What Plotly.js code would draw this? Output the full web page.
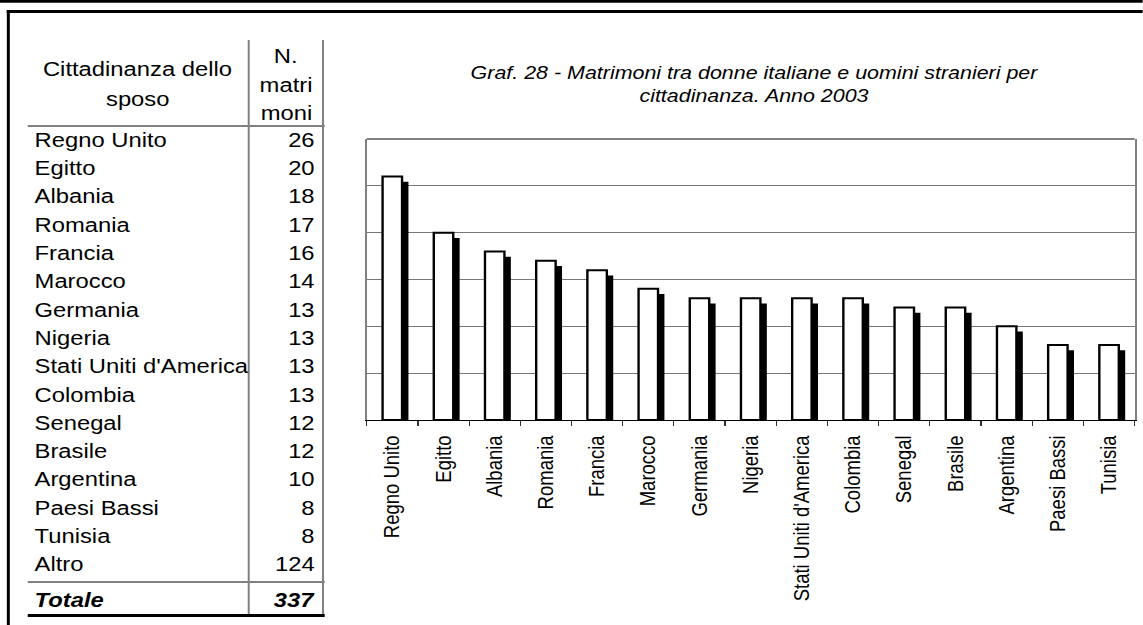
<!DOCTYPE html>
<html>
<head>
<meta charset="utf-8">
<script src="https://cdn.plot.ly/plotly-3.0.1.min.js"></script>
<style>
  html, body { margin: 0; padding: 0; background: #ffffff; overflow: hidden; }
  #wrap { width: 960px; height: 625px; transform: scaleX(1.190625); transform-origin: 0 0; }
  #chart { width: 960px; height: 625px; }
</style>
</head>
<body>
<div id="wrap"><div id="chart"></div></div>
<script>
// ---- data ----
const paesi = ["Regno Unito", "Egitto", "Albania", "Romania", "Francia", "Marocco", "Germania",
  "Nigeria", "Stati Uniti d'America", "Colombia", "Senegal", "Brasile", "Argentina", "Paesi Bassi", "Tunisia"];
const matrimoni = [26, 20, 18, 17, 16, 14, 13, 13, 13, 13, 12, 12, 10, 8, 8];
const altroLabel = "Altro";
const altroValore = 124;
const totaleLabel = "Totale";
const totaleValore = 337;
const headerCittadinanza = ["Cittadinanza dello", "sposo"];
const headerNumero = ["N.", "matri", "moni"];
const titolo = ["Graf. 28 - Matrimoni tra donne italiane e uomini stranieri per", "cittadinanza. Anno 2003"];

// ---- geometry helpers (page pixels of the 1143x625 picture) ----
const K = 1143 / 960;
const W = 960, H = 625;
const plotL = 367 / K, plotR = 1135 / K, plotTop = 139, plotBot = 420;
const px = X => (X / K - plotL) / (plotR - plotL);
const py = Y => (plotBot - Y) / (plotBot - plotTop);

const FONT = "Liberation Sans, Arial, Helvetica, sans-serif";
const GRAY = "#808080";
const barW = 0.38;
const shadowShift = 0.125;
const shadowDrop = 0.56;

const traces = [
  {
    type: "bar", x: paesi, y: matrimoni.map(v => v - shadowDrop),
    width: barW, offset: -barW / 2 + shadowShift,
    marker: { color: "#000000", line: { width: 0 } },
    hoverinfo: "skip", showlegend: false
  },
  {
    type: "bar", x: paesi, y: matrimoni,
    width: barW, offset: -barW / 2,
    marker: { color: "#ffffff", line: { color: "#000000", width: 2 } },
    showlegend: false
  }
];

// ---- table (text as annotations) ----
const ann = [];
const rowY0 = 139.8, rowStep = 28.3;
const tabFont = { family: FONT, size: 20, color: "#000000" };
const names = paesi.concat([altroLabel]);
const vals = matrimoni.concat([altroValore]);
names.forEach((n, i) => {
  const Y = rowY0 + i * rowStep;
  ann.push({ xref: "paper", yref: "paper", x: px(33), y: py(Y), xanchor: "left", yanchor: "middle",
    text: n, showarrow: false, font: tabFont });
  ann.push({ xref: "paper", yref: "paper", x: px(317), y: py(Y), xanchor: "right", yanchor: "middle",
    text: String(vals[i]), showarrow: false, font: tabFont });
});
ann.push({ xref: "paper", yref: "paper", x: px(33), y: py(600), xanchor: "left", yanchor: "middle",
  text: "<b><i>" + totaleLabel + "</i></b>", showarrow: false, font: tabFont });
ann.push({ xref: "paper", yref: "paper", x: px(317), y: py(600), xanchor: "right", yanchor: "middle",
  text: "<b><i>" + totaleValore + "</i></b>", showarrow: false, font: tabFont });
const hc = [69.5, 98.5];
headerCittadinanza.forEach((t, i) => ann.push({ xref: "paper", yref: "paper", x: px(138.3), y: py(hc[i]),
  xanchor: "center", yanchor: "middle", text: t, showarrow: false, font: tabFont }));
const hn = [56.3, 84.8, 113.5];
headerNumero.forEach((t, i) => ann.push({ xref: "paper", yref: "paper", x: px(286.5), y: py(hn[i]),
  xanchor: "center", yanchor: "middle", text: t, showarrow: false, font: tabFont }));

// ---- lines ----
const line = (x0, y0, x1, y1, color, width) => ({ type: "line", xref: "paper", yref: "paper",
  x0: px(x0), y0: py(y0), x1: px(x1), y1: py(y1), line: { color: color, width: width }, layer: "above" });
const shapes = [
  line(0, 1.4, 1143, 1.4, "#000000", 2.8),
  line(7, 11.6, 1143, 11.6, "#000000", 3),
  line(8.6, 10, 8.6, 625, "#000000", 3 / K),
  line(249, 40, 249, 614, GRAY, 2 / K),
  line(323.3, 40, 323.3, 614, GRAY, 2 / K),
  line(28, 126, 325, 126, GRAY, 2),
  line(28, 582, 325, 582, GRAY, 2),
  line(28, 615.5, 325, 615.5, "#000000", 3),
  { type: "line", xref: "paper", yref: "paper", x0: 0, x1: 1, y0: 1, y1: 1,
    line: { color: GRAY, width: 2 }, layer: "above" }
];

const layout = {
  width: W, height: H,
  margin: { l: plotL, r: W - plotR, t: plotTop, b: H - plotBot, pad: 0, autoexpand: false },
  paper_bgcolor: "#ffffff", plot_bgcolor: "#ffffff",
  barmode: "overlay",
  showlegend: false,
  font: { family: FONT, color: "#000000" },
  title: {
    text: "<i>" + titolo[0] + "</i><br><i>" + titolo[1] + "</i>",
    font: { family: FONT, size: 18, color: "#000000" },
    x: 754 / 1143, xref: "container", xanchor: "center",
    y: 1 - 79 / 625, yref: "container", yanchor: "middle"
  },
  xaxis: {
    type: "category", automargin: false,
    showline: true, linecolor: "#000000", linewidth: 1,
    ticks: "outside", tickson: "boundaries", ticklen: 5, tickcolor: "#333333", tickwidth: 1,
    tickangle: -90, ticklabelstandoff: 7,
    tickfont: { family: FONT, size: 18.5, color: "#000000" },
    showgrid: false, zeroline: false, fixedrange: true
  },
  yaxis: {
    range: [0, 30], dtick: 5, tick0: 0, automargin: false,
    showticklabels: false, ticks: "",
    showgrid: true, gridcolor: "#777777", gridwidth: 1.2,
    zeroline: false,
    showline: true, linecolor: GRAY, linewidth: 2 / K, mirror: true, fixedrange: true
  },
  annotations: ann,
  shapes: shapes
};

Plotly.newPlot("chart", traces, layout, { displayModeBar: false, staticPlot: true });
</script>
</body>
</html>
